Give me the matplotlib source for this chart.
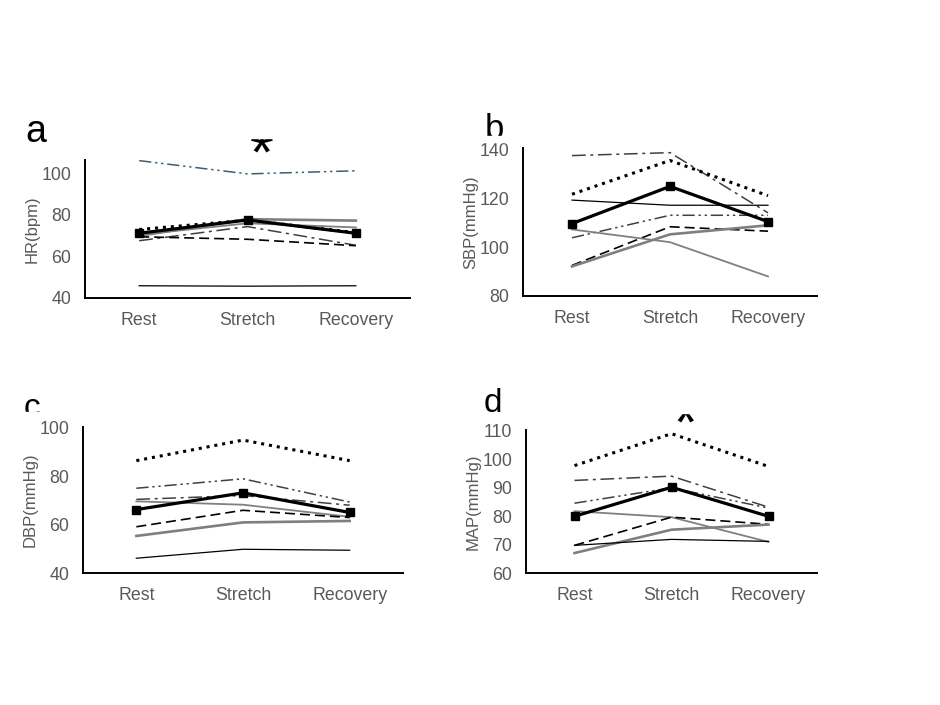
import matplotlib
matplotlib.use("Agg")
import matplotlib.pyplot as plt
from matplotlib.patches import Rectangle

plt.rcParams['font.family'] = ['Liberation Sans', 'DejaVu Sans']

phases = ["Rest", "Stretch", "Recovery"]

# values, one list per line in each panel
hr = {
    "dashdotdot": [106.2, 99.8, 101.3],
    "dotted": [73.0, 77.5, 71.5],
    "gray_thick": [70.0, 78.0, 77.3],
    "gray_thin": [70.5, 76.0, 74.0],
    "dashdot": [67.6, 74.4, 65.4],
    "dashed": [69.5, 68.3, 65.2],
    "thin_black": [45.9, 45.7, 45.9],
    "mean": [71.2, 77.6, 71.2],
}
sbp = {
    "dashdot": [137.4, 138.6, 114.0],
    "dotted": [121.6, 135.4, 121.0],
    "thin_black": [119.2, 117.1, 117.1],
    "dashdotdot": [103.8, 113.0, 113.0],
    "dashed": [92.5, 108.3, 106.5],
    "gray_thick": [92.1, 105.2, 108.9],
    "gray_thin": [107.2, 102.0, 88.0],
    "mean": [109.6, 124.8, 110.4],
}
dbp = {
    "dotted": [86.4, 94.9, 86.4],
    "dashdotdot": [75.0, 78.9, 69.3],
    "dashdot": [70.4, 72.0, 68.0],
    "gray_thin": [69.6, 68.2, 63.2],
    "dashed": [59.1, 65.9, 62.9],
    "gray_thick": [55.3, 60.9, 61.5],
    "thin_black": [46.1, 49.8, 49.4],
    "mean": [66.2, 73.1, 65.0],
}
mapv = {
    "dotted": [97.7, 108.9, 97.4],
    "dashdot": [92.5, 94.0, 83.1],
    "dashdotdot": [84.5, 89.9, 82.8],
    "gray_thin": [81.7, 79.6, 70.9],
    "dashed": [69.7, 79.6, 77.1],
    "gray_thick": [67.0, 75.2, 77.0],
    "thin_black": [69.7, 71.8, 71.1],
    "mean": [79.9, 90.1, 79.9],
}

styles = {
    "dotted": dict(color="black", lw=2.2, ls=(0, (1, 1.6))),
    "dashdot": dict(color="#404040", lw=1.1, ls=(0, (9, 3, 2, 3))),
    "dashdotdot": dict(color="#404040", lw=1.1, ls=(0, (8, 2.5, 1.5, 2.5, 1.5, 2.5))),
    "gray_thin": dict(color="#808080", lw=1.3, ls="-"),
    "gray_thick": dict(color="#7f7f7f", lw=1.9, ls="-"),
    "dashed": dict(color="black", lw=1.2, ls=(0, (6, 3))),
    "thin_black": dict(color="black", lw=0.9, ls="-"),
    "mean": dict(color="black", lw=2.3, ls="-", marker="s", ms=6),
}

W, H = 940, 705
fig = plt.figure(figsize=(W / 100, H / 100), dpi=100)


def add_axes(left, right, top, bottom):
    return fig.add_axes([left / W, 1 - bottom / H, (right - left) / W, (bottom - top) / H])


panels = [
    (hr, "HR(bpm)", (40, 106.5), [40, 60, 80, 100], (85, 410, 160, 298)),
    (sbp, "SBP(mmHg)", (80, 140.5), [80, 100, 120, 140], (523, 817, 148, 296)),
    (dbp, "DBP(mmHg)", (40, 100.3), [40, 60, 80, 100], (83, 403, 427, 573)),
    (mapv, "MAP(mmHg)", (60, 110.2), [60, 70, 80, 90, 100, 110], (526, 817, 430, 573)),
]

x = list(range(len(phases)))
for data, ylabel, ylim, yticks, box in panels:
    ax = add_axes(*box)
    for name, vals in data.items():
        st = dict(styles[name])
        if data is hr and name == "dashdotdot":
            st["color"] = "#3f5f6e"
        ax.plot(x, vals, **st, zorder=3 if name == "mean" else 2)
    ax.set_xlim(-0.5, 2.5)
    ax.set_ylim(*ylim)
    ax.set_yticks(yticks)
    ax.set_xticks(x)
    ax.set_xticklabels(phases)
    for s in ["top", "right"]:
        ax.spines[s].set_visible(False)
    for s in ["left", "bottom"]:
        ax.spines[s].set_linewidth(1.4)
        ax.spines[s].set_color("black")
    ax.tick_params(length=0, labelsize=12.8, colors="#595959")
    ax.tick_params(axis="y", pad=10)
    ax.tick_params(axis="x", pad=10)
    ax.set_ylabel(ylabel, fontsize=12, color="#595959", labelpad=1)

# panel letters and significance marks
fig.text(25 / W, 1 - 142 / H, "a", fontsize=27, color="black")
fig.text(485 / W, 1 - 139 / H, "b", fontsize=25, color="black")
fig.text(24 / W, 1 - 417 / H, "c", fontsize=24, color="black")
fig.text(484 / W, 1 - 412 / H, "d", fontsize=24, color="black")
fig.text(262 / W, 1 - 172 / H, "*", fontsize=44, ha="center", color="black")
fig.text(686 / W, 1 - 442 / H, "*", fontsize=44, ha="center", color="black")

# white boxes that hide parts of the marks, as in the original figure
for (l, t, w, h) in [(230, 100, 70, 38), (478, 135.5, 34, 6), (18, 412, 36, 7), (655, 385, 60, 28)]:
    fig.add_artist(Rectangle((l / W, 1 - (t + h) / H), w / W, h / H,
                             transform=fig.transFigure, color="white", zorder=10))

fig.savefig("out.png", dpi=100)
